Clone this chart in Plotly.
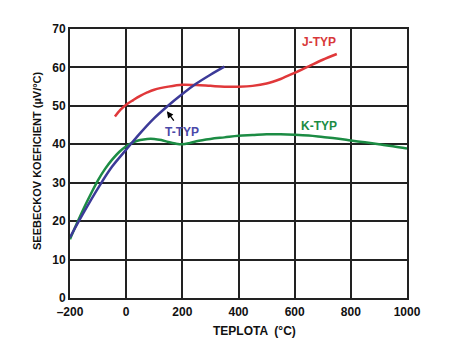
import plotly.graph_objects as go

# J-type
j_x = [-40, -20, 0, 25, 50, 75, 100, 150, 200, 250, 300, 350, 400, 450, 500, 550, 600, 650, 700, 750]
j_y = [47.2, 49.0, 50.3, 51.5, 52.6, 53.5, 54.2, 55.0, 55.5, 55.4, 55.2, 55.0, 55.0, 55.2, 55.8, 57.0, 58.6, 60.3, 62.0, 63.5]
# T-type
t_x = [-200, -150, -100, -50, 0, 50, 100, 150, 200, 250, 300, 350]
t_y = [15.8, 22.4, 28.6, 34.2, 38.6, 42.9, 46.8, 50.1, 53.1, 55.8, 58.1, 60.2]
# K-type
k_x = [-200, -175, -150, -125, -100, -75, -50, -25, 0, 25, 50, 75, 100, 125, 150, 175, 200, 225, 250,
       300, 350, 400, 450, 500, 550, 600, 650, 700, 750, 800, 850, 900, 950, 1000]
k_y = [15.3, 19.5, 23.5, 27.2, 30.7, 33.6, 36.0, 38.0, 39.5, 40.5, 41.1, 41.4, 41.4, 41.1, 40.6, 40.2, 40.0, 40.3, 40.8,
       41.4, 41.8, 42.2, 42.4, 42.6, 42.6, 42.5, 42.3, 41.9, 41.5, 41.0, 40.5, 40.0, 39.5, 38.9]

x_ticks = [-200, 0, 200, 400, 600, 800, 1000]
x_tick_labels = ["\u2013200", "0", "200", "400", "600", "800", "1000"]
y_ticks = [0, 10, 20, 30, 40, 50, 60, 70]

RED = "#e0383a"
BLUE = "#3c3a98"
GREEN = "#1c8c44"

fig = go.Figure()
fig.add_trace(go.Scatter(x=k_x, y=k_y, mode="lines", line=dict(color=GREEN, width=2.5, shape="spline")))
fig.add_trace(go.Scatter(x=j_x, y=j_y, mode="lines", line=dict(color=RED, width=2.5, shape="spline")))
fig.add_trace(go.Scatter(x=t_x, y=t_y, mode="lines", line=dict(color=BLUE, width=2.5, shape="spline")))

lab_font = dict(family="Liberation Sans, Arial", size=12, weight="bold")
fig.add_annotation(x=688, y=66.5, text="J-TYP", showarrow=False, font=dict(lab_font, color="#d8383a"))
fig.add_annotation(x=688, y=44.8, text="K-TYP", showarrow=False, font=dict(lab_font, color="#1c8c44"))
fig.add_annotation(x=199, y=43.3, text="T-TYP", showarrow=False, font=dict(lab_font, color="#4a48a8"))
fig.add_annotation(x=145, y=48.6, text="", showarrow=True, arrowhead=2, arrowsize=1, arrowwidth=1.3,
                   arrowcolor="#000000", ax=8, ay=11)

# axis titles
fig.add_annotation(xref="paper", yref="paper", x=0.546, y=-0.1227, text="TEPLOTA  (\u00b0C)",
                   showarrow=False, xanchor="center", yanchor="middle",
                   font=dict(family="Liberation Sans, Arial", size=12, color="#111111", weight="bold"))
fig.add_annotation(xref="paper", yref="paper", x=-0.098, y=0.513, text="SEEBECKOV KOEFICIENT (\u00b5V/\u00b0C)",
                   showarrow=False, xanchor="center", yanchor="middle", textangle=-90,
                   font=dict(family="Liberation Sans Narrow, Liberation Sans, Arial", size=11, color="#111111", weight="bold"))

axis_common = dict(
    showgrid=True, gridcolor="#222222", gridwidth=2,
    showline=True, linecolor="#222222", linewidth=2, mirror=True,
    zeroline=False, ticks="", automargin=False,
    tickfont=dict(family="Liberation Sans, Arial", size=12, color="#111111", weight="bold"),
)

# page body has an 8px margin, so the figure is sized/offset to compensate
fig.update_layout(
    width=455, height=347,
    margin=dict(l=62, r=56, t=21, b=57),
    paper_bgcolor="white", plot_bgcolor="white",
    showlegend=False,
    xaxis=dict(axis_common, range=[-200, 1000], tickvals=x_ticks, ticktext=x_tick_labels, ticklabelstandoff=2),
    yaxis=dict(axis_common, range=[0, 70], tickvals=y_ticks),
)

fig.write_html("out.html")
